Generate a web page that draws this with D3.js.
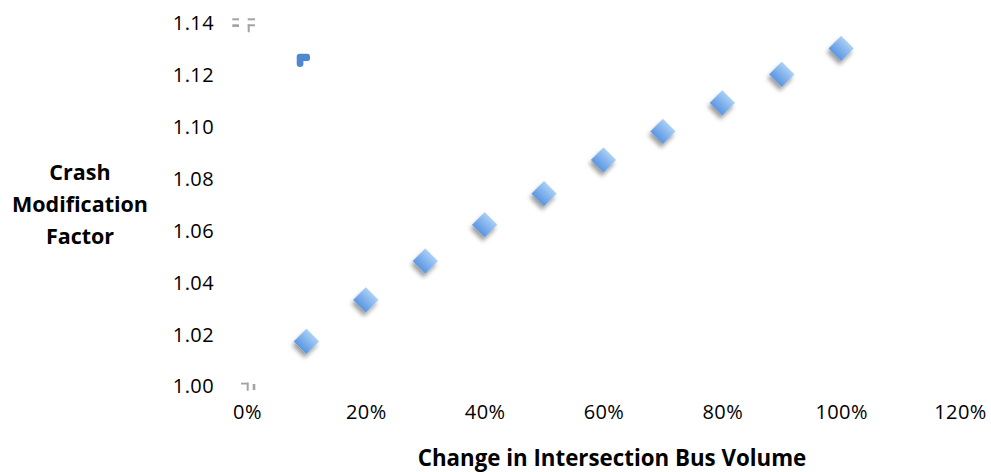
<!DOCTYPE html>
<html>
<head>
<meta charset="utf-8">
<script src="https://cdn.jsdelivr.net/npm/d3@7"></script>
<style>
  html, body { margin: 0; padding: 0; background: #fff; }
  svg { display: block; }
  .tick text { font-family: "Open Sans", Lato, sans-serif; font-size: 20px; letter-spacing: 0.4px; fill: #000; }
  .title { font-family: "Open Sans", Lato, sans-serif; font-weight: bold; font-size: 21.5px; fill: #000; }
  .title.x { font-size: 22.3px; }
</style>
</head>
<body>
<svg id="chart" width="991" height="472"></svg>
<script>
// Change in intersection bus volume (share) and resulting crash modification factor
const busVolumeChange = [0.1, 0.2, 0.3, 0.4, 0.5, 0.6, 0.7, 0.8, 0.9, 1.0];
const crashModFactor  = [1.017, 1.033, 1.048, 1.062, 1.074, 1.087, 1.098, 1.109, 1.120, 1.130];

const xTicks = [0, 0.2, 0.4, 0.6, 0.8, 1.0, 1.2];
const yTicks = [1.00, 1.02, 1.04, 1.06, 1.08, 1.10, 1.12, 1.14];

const xTitle = "Change in Intersection Bus Volume";
const yTitleLines = ["Crash", "Modification", "Factor"];

const svg = d3.select("#chart");

const x = d3.scaleLinear().domain([0, 1.2]).range([247, 960]);
const y = d3.scaleLinear().domain([1.00, 1.14]).range([385.5, 22.5]);

// Defs: gradient fill and soft drop shadow for the diamond markers
const defs = svg.append("defs");
const grad = defs.append("linearGradient")
  .attr("id", "diamondFill").attr("x1", 0).attr("y1", 0).attr("x2", 0).attr("y2", 1);
grad.append("stop").attr("offset", "0%").attr("stop-color", "#a9cff6");
grad.append("stop").attr("offset", "100%").attr("stop-color", "#5a96e2");

const shadow = defs.append("filter").attr("id", "shadow")
  .attr("x", "-50%").attr("y", "-50%").attr("width", "200%").attr("height", "200%");
shadow.append("feDropShadow")
  .attr("dx", 1.5).attr("dy", 4).attr("stdDeviation", 2.2)
  .attr("flood-color", "#000").attr("flood-opacity", 0.38);

// Axes (labels only, no lines)
const xAxis = svg.append("g")
  .attr("transform", "translate(0,397)")
  .call(d3.axisBottom(x).tickValues(xTicks).tickSize(0).tickPadding(8).tickFormat(d3.format(".0%")));
xAxis.select(".domain").remove();

const yAxis = svg.append("g")
  .attr("transform", "translate(221,1)")
  .call(d3.axisLeft(y).tickValues(yTicks).tickSize(0).tickPadding(7).tickFormat(d3.format(".2f")));
yAxis.select(".domain").remove();

// Faint leftover marks near the top and bottom of the y range
const stray = svg.append("g").attr("fill", "#a3a3a3");
const x0 = x(0), yTop = y(1.14), yBot = y(1.00);
[
  [x0 - 14.7, yTop - 4.2, 6.7, 2],
  [x0 - 14.7, yTop + 1.8, 6.7, 2.7],
  [x0 + 0.7, yTop - 4.2, 7.3, 2],
  [x0 + 0.7, yTop + 1.8, 7.3, 2],
  [x0 + 0.7, yTop + 1.8, 2, 8],
  [x0 - 6, yBot - 2.8, 7.3, 1.8],
  [x0 - 0.3, yBot - 2.8, 2, 8],
  [x0 + 5.7, yBot - 1.5, 2.6, 6]
].forEach(r => stray.append("rect").attr("x", r[0]).attr("y", r[1]).attr("width", r[2]).attr("height", r[3]));

svg.append("path")
  .attr("fill", "#4f88cf")
  .attr("d", (() => {
    const px = x(0.1) - 9.7, py = y(1.126) - 5;
    return `M${px + 3},${py} H${px + 10.5} Q${px + 13.3},${py} ${px + 13.3},${py + 3} V${py + 4.5}
            Q${px + 13.3},${py + 7.3} ${px + 10.5},${py + 7.3} H${px + 6.7} V${py + 10.3}
            Q${px + 6.7},${py + 13.3} ${px + 3.3},${py + 13.3} Q${px},${py + 13.3} ${px},${py + 10.3}
            V${py + 3} Q${px},${py} ${px + 3},${py} Z`;
  })());

// Data points: rotated squares (diamonds)
const diamond = d3.symbol().type(d3.symbolSquare).size(320);
svg.append("g")
  .selectAll("path")
  .data(busVolumeChange.map((v, i) => ({ v, f: crashModFactor[i] })))
  .join("path")
  .attr("d", diamond)
  .attr("transform", d => `translate(${x(d.v)},${y(d.f)}) rotate(45)`)
  .attr("fill", "url(#diamondFill)")
  .attr("filter", "url(#shadow)");

// Axis titles
svg.append("text")
  .attr("class", "title x")
  .attr("x", 612).attr("y", 466)
  .attr("text-anchor", "middle")
  .text(xTitle);

const yt = svg.append("text")
  .attr("class", "title")
  .attr("text-anchor", "middle");
yTitleLines.forEach((line, i) => {
  yt.append("tspan").attr("x", 80).attr("y", 180 + i * 32).text(line);
});
</script>
</body>
</html>
